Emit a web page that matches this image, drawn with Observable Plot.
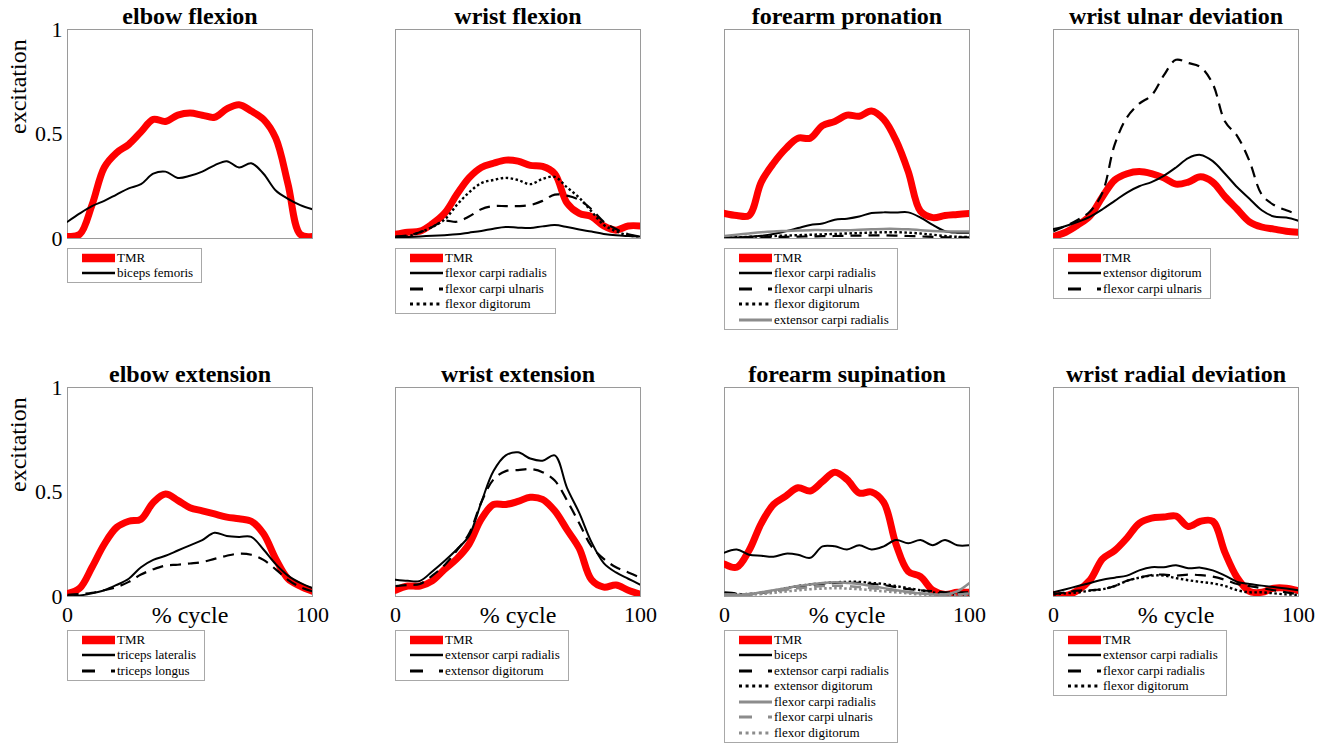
<!DOCTYPE html>
<html><head><meta charset="utf-8">
<script src="https://cdn.jsdelivr.net/npm/d3@7"></script>
<script src="https://cdn.jsdelivr.net/npm/@observablehq/plot@0.6"></script>
<style>
body{margin:0;background:#fff;}
#root{position:relative;width:1331px;height:745px;overflow:hidden;font-family:"Liberation Serif","Times New Roman",serif;background:#fff;}
.panel{position:absolute;}
.legend{position:absolute;border:1px solid #a8a8a8;background:#fff;padding:1px 8px 1px 0;font-size:13px;color:#000;}
.legend .row{display:flex;align-items:center;height:15.5px;white-space:nowrap;}
.legend svg{margin-left:14px;margin-right:2px;flex:none;display:block;}
</style></head><body><div id="root"></div>
<script>
// ---- data (x = % cycle, y = excitation) ----
const pct = [0,5,10,15,20,25,30,35,40,45,50,55,60,65,70,75,80,85,90,95,100];

// elbow flexion
const elbowFlexion_TMR = [0.01,0.02,0.16,0.34,0.41,0.45,0.51,0.57,0.56,0.59,0.60,0.59,0.58,0.62,0.64,0.61,0.57,0.48,0.26,0.02,0.01];
const elbowFlexion_bicepsFemoris = [0.08,0.12,0.155,0.18,0.21,0.24,0.26,0.31,0.32,0.29,0.30,0.32,0.35,0.37,0.34,0.36,0.31,0.23,0.19,0.16,0.14];

// wrist flexion
const wristFlexion_TMR = [0.02,0.03,0.035,0.07,0.12,0.21,0.29,0.34,0.36,0.375,0.37,0.35,0.345,0.31,0.17,0.12,0.105,0.06,0.04,0.06,0.06];
const wristFlexion_FCR = [0.005,0.007,0.01,0.013,0.016,0.02,0.028,0.036,0.047,0.055,0.052,0.05,0.058,0.064,0.055,0.043,0.033,0.022,0.015,0.012,0.01];
const wristFlexion_FCU = [0.01,0.015,0.03,0.055,0.085,0.08,0.105,0.14,0.155,0.155,0.155,0.16,0.18,0.21,0.205,0.185,0.14,0.08,0.045,0.02,0.01];
const wristFlexion_FD = [0.005,0.01,0.03,0.055,0.09,0.16,0.22,0.265,0.28,0.29,0.28,0.26,0.285,0.295,0.245,0.195,0.13,0.065,0.035,0.015,0.01];

// forearm pronation
const pronation_TMR = [0.12,0.11,0.11,0.27,0.36,0.43,0.48,0.48,0.54,0.56,0.59,0.585,0.61,0.57,0.47,0.32,0.13,0.10,0.11,0.115,0.12];
const pronation_FCR = [0.003,0.005,0.008,0.013,0.022,0.035,0.05,0.065,0.072,0.09,0.095,0.105,0.122,0.125,0.124,0.125,0.10,0.065,0.035,0.028,0.028];
const pronation_FCU = [0.004,0.004,0.005,0.006,0.007,0.008,0.009,0.01,0.011,0.012,0.013,0.014,0.015,0.015,0.014,0.012,0.01,0.008,0.006,0.005,0.005];
const pronation_FD = [0.005,0.006,0.008,0.01,0.012,0.014,0.016,0.018,0.02,0.022,0.024,0.026,0.028,0.03,0.03,0.028,0.024,0.018,0.012,0.008,0.008];
const pronation_ECR = [0.012,0.018,0.024,0.03,0.034,0.036,0.038,0.04,0.04,0.04,0.04,0.042,0.044,0.046,0.046,0.044,0.04,0.036,0.034,0.034,0.034];

// wrist ulnar deviation
const ulnarDev_TMR = [0.01,0.03,0.065,0.11,0.20,0.28,0.31,0.32,0.31,0.29,0.26,0.27,0.295,0.27,0.20,0.14,0.08,0.055,0.045,0.035,0.03];
const ulnarDev_ED = [0.045,0.06,0.08,0.105,0.14,0.18,0.22,0.25,0.27,0.30,0.34,0.385,0.40,0.37,0.31,0.245,0.19,0.135,0.105,0.10,0.085];
const ulnarDev_FCU = [0.035,0.06,0.09,0.13,0.22,0.45,0.58,0.645,0.685,0.78,0.855,0.84,0.82,0.74,0.56,0.49,0.37,0.21,0.16,0.135,0.115];

// elbow extension
const elbowExt_TMR = [0.015,0.04,0.14,0.25,0.33,0.36,0.37,0.45,0.49,0.46,0.425,0.41,0.395,0.38,0.372,0.36,0.30,0.18,0.085,0.05,0.025];
const elbowExt_tricepsLat = [0.0,0.005,0.015,0.03,0.055,0.085,0.14,0.175,0.195,0.22,0.245,0.27,0.305,0.29,0.285,0.285,0.225,0.155,0.10,0.065,0.04];
const elbowExt_tricepsLong = [0.008,0.012,0.018,0.03,0.045,0.07,0.105,0.13,0.148,0.152,0.158,0.165,0.18,0.195,0.205,0.20,0.175,0.13,0.08,0.045,0.025];

// wrist extension
const wristExt_TMR = [0.03,0.05,0.05,0.075,0.13,0.18,0.25,0.37,0.44,0.44,0.455,0.475,0.465,0.41,0.32,0.23,0.08,0.045,0.055,0.03,0.01];
const wristExt_ECR = [0.08,0.075,0.075,0.12,0.17,0.225,0.29,0.45,0.60,0.675,0.69,0.66,0.65,0.675,0.52,0.40,0.26,0.16,0.115,0.085,0.056];
const wristExt_ED = [0.05,0.055,0.06,0.10,0.15,0.22,0.30,0.45,0.56,0.60,0.605,0.61,0.595,0.555,0.46,0.35,0.24,0.18,0.14,0.115,0.09];

// forearm supination
const supination_TMR = [0.155,0.14,0.22,0.35,0.44,0.48,0.52,0.505,0.55,0.595,0.56,0.495,0.50,0.45,0.25,0.12,0.095,0.03,0.01,0.02,0.02];
const supination_biceps = [0.21,0.225,0.20,0.195,0.19,0.205,0.20,0.185,0.24,0.24,0.225,0.245,0.225,0.24,0.27,0.255,0.27,0.245,0.27,0.245,0.245];
const supination_ECR = [0.02,0.015,0.01,0.015,0.025,0.035,0.045,0.055,0.06,0.065,0.065,0.065,0.06,0.055,0.045,0.035,0.03,0.025,0.02,0.02,0.02];
const supination_ED = [0.015,0.012,0.012,0.018,0.028,0.04,0.05,0.058,0.063,0.068,0.07,0.07,0.065,0.06,0.05,0.04,0.03,0.02,0.012,0.01,0.01];
const supination_FCR = [0.01,0.008,0.01,0.02,0.03,0.04,0.05,0.058,0.065,0.068,0.065,0.06,0.05,0.04,0.03,0.022,0.015,0.01,0.01,0.025,0.065];
const supination_FCU = [0.01,0.01,0.012,0.018,0.025,0.032,0.04,0.045,0.05,0.052,0.05,0.045,0.04,0.035,0.028,0.02,0.015,0.012,0.01,0.01,0.015];
const supination_FD = [0.005,0.005,0.008,0.012,0.018,0.024,0.03,0.035,0.038,0.04,0.038,0.035,0.03,0.025,0.02,0.015,0.01,0.008,0.006,0.005,0.005];

// wrist radial deviation
const radialDev_TMR = [0.01,0.005,0.03,0.08,0.18,0.22,0.28,0.35,0.375,0.38,0.385,0.335,0.36,0.36,0.21,0.09,0.025,0.02,0.04,0.04,0.028];
const radialDev_ECR = [0.02,0.035,0.05,0.065,0.08,0.09,0.10,0.125,0.14,0.14,0.15,0.135,0.138,0.125,0.10,0.07,0.06,0.052,0.045,0.038,0.03];
const radialDev_FCR = [0.01,0.02,0.028,0.03,0.035,0.05,0.075,0.09,0.103,0.105,0.10,0.105,0.102,0.095,0.08,0.06,0.05,0.04,0.03,0.02,0.01];
const radialDev_FD = [0.01,0.015,0.02,0.028,0.035,0.05,0.075,0.09,0.10,0.10,0.088,0.078,0.07,0.063,0.05,0.03,0.02,0.02,0.015,0.01,0.008];

const yTicks = [0, 0.5, 1];
const xTicks = [0, 100];

// ---- styles ----
const STYLES = {
  tmr:        {stroke:"#ff0000", width:7,   dash:null,      legendWidth:8.5, legendDash:null},
  solid:      {stroke:"#000000", width:2,   dash:null,      legendWidth:2.5, legendDash:null},
  dashed:     {stroke:"#000000", width:2.2, dash:"11,7",    legendWidth:2.8, legendDash:"13,16"},
  dotted:     {stroke:"#000000", width:2.4, dash:"2.5,2.5", legendWidth:3,   legendDash:"3,3.6"},
  graySolid:  {stroke:"#8c8c8c", width:2.5, dash:null,      legendWidth:3,   legendDash:null},
  grayDashed: {stroke:"#8c8c8c", width:2.5, dash:"11,7",    legendWidth:3,   legendDash:"13,16"},
  grayDotted: {stroke:"#8c8c8c", width:2.6, dash:"2.5,2.5", legendWidth:3,   legendDash:"3,3.6"}
};

const panels = [
  {title:"elbow flexion", row:0, col:0, series:[
    ["TMR","tmr",elbowFlexion_TMR],["biceps femoris","solid",elbowFlexion_bicepsFemoris]]},
  {title:"wrist flexion", row:0, col:1, series:[
    ["TMR","tmr",wristFlexion_TMR],["flexor carpi radialis","solid",wristFlexion_FCR],
    ["flexor carpi ulnaris","dashed",wristFlexion_FCU],["flexor digitorum","dotted",wristFlexion_FD]]},
  {title:"forearm pronation", row:0, col:2, series:[
    ["TMR","tmr",pronation_TMR],["flexor carpi radialis","solid",pronation_FCR],
    ["flexor carpi ulnaris","dashed",pronation_FCU],["flexor digitorum","dotted",pronation_FD],
    ["extensor carpi radialis","graySolid",pronation_ECR]]},
  {title:"wrist ulnar deviation", row:0, col:3, series:[
    ["TMR","tmr",ulnarDev_TMR],["extensor digitorum","solid",ulnarDev_ED],
    ["flexor carpi ulnaris","dashed",ulnarDev_FCU]]},
  {title:"elbow extension", row:1, col:0, series:[
    ["TMR","tmr",elbowExt_TMR],["triceps lateralis","solid",elbowExt_tricepsLat],
    ["triceps longus","dashed",elbowExt_tricepsLong]]},
  {title:"wrist extension", row:1, col:1, series:[
    ["TMR","tmr",wristExt_TMR],["extensor carpi radialis","solid",wristExt_ECR],
    ["extensor digitorum","dashed",wristExt_ED]]},
  {title:"forearm supination", row:1, col:2, series:[
    ["TMR","tmr",supination_TMR],["biceps","solid",supination_biceps],
    ["extensor carpi radialis","dashed",supination_ECR],["extensor digitorum","dotted",supination_ED],
    ["flexor carpi radialis","graySolid",supination_FCR],["flexor carpi ulnaris","grayDashed",supination_FCU],
    ["flexor digitorum","grayDotted",supination_FD]]},
  {title:"wrist radial deviation", row:1, col:3, series:[
    ["TMR","tmr",radialDev_TMR],["extensor carpi radialis","solid",radialDev_ECR],
    ["flexor carpi radialis","dashed",radialDev_FCR],["flexor digitorum","dotted",radialDev_FD]]}
];

// ---- layout ----
const FW = 245, FH = 209;
const colX = [67, 395, 724, 1053];
const rowY = [28.5, 386.5];
const legendTop = [248, 630];
const ML = 67, MR = 30, MT = 45, MB = 45;
const FONT = "'Liberation Serif','Times New Roman',serif";

const root = document.getElementById("root");

for (const p of panels) {
  const marks = [Plot.frame({stroke:"#9a9a9a", strokeWidth:1})];
  for (const [name, styleKey, ys] of p.series) {
    const s = STYLES[styleKey];
    const data = pct.map((x, i) => ({x, y: ys[i]}));
    marks.push(Plot.line(data, {
      x:"x", y:"y", stroke:s.stroke, strokeWidth:s.width,
      strokeDasharray: s.dash || undefined,
      strokeLinecap: s.dash ? "butt" : "round",
      curve:"catmull-rom", clip:true
    }));
  }
  marks.push(Plot.text([p.title], {frameAnchor:"top", lineAnchor:"bottom", dy:-5.5,
    fontSize:24, fontWeight:"bold", fill:"#000"}));
  if (p.col === 0) {
    marks.push(Plot.text(["excitation"], {frameAnchor:"left", rotate:-90, dx:-49,
      lineAnchor:"middle", fontSize:24, fill:"#000"}));
  }
  if (p.row === 1) {
    marks.push(Plot.text(["% cycle"], {frameAnchor:"bottom", lineAnchor:"top", dy:9,
      fontSize:24, fill:"#000"}));
  }
  const svg = Plot.plot({
    width: FW + ML + MR, height: FH + MT + MB,
    marginLeft: ML, marginRight: MR, marginTop: MT, marginBottom: MB,
    style: {background:"transparent", overflow:"visible", fontFamily:FONT, fontSize:"22px", color:"#000"},
    x: {domain:[0,100], axis: p.row === 1 ? "bottom" : null, ticks:xTicks, tickSize:0,
        tickPadding:10, label:null, tickFormat:d => String(d)},
    y: {domain:[0,1], axis: p.col === 0 ? "left" : null, ticks:yTicks, tickSize:0,
        tickPadding:5, label:null, tickFormat:d => String(d)},
    marks
  });
  const wrap = document.createElement("div");
  wrap.className = "panel";
  wrap.style.left = (colX[p.col] - ML) + "px";
  wrap.style.top = (rowY[p.row] - MT) + "px";
  wrap.appendChild(svg);
  root.appendChild(wrap);

  // legend
  const leg = document.createElement("div");
  leg.className = "legend";
  leg.style.left = colX[p.col] + "px";
  leg.style.top = legendTop[p.row] + "px";
  for (const [name, styleKey] of p.series) {
    const s = STYLES[styleKey];
    const row = document.createElement("div");
    row.className = "row";
    const ns = "http://www.w3.org/2000/svg";
    const sv = document.createElementNS(ns, "svg");
    sv.setAttribute("width", 33); sv.setAttribute("height", 12);
    const ln = document.createElementNS(ns, "line");
    ln.setAttribute("x1", 0); ln.setAttribute("x2", 33);
    ln.setAttribute("y1", 6); ln.setAttribute("y2", 6);
    ln.setAttribute("stroke", s.stroke);
    ln.setAttribute("stroke-width", s.legendWidth);
    if (s.legendDash) ln.setAttribute("stroke-dasharray", s.legendDash);
    sv.appendChild(ln);
    const tx = document.createElement("span");
    tx.textContent = name;
    row.appendChild(sv); row.appendChild(tx);
    leg.appendChild(row);
  }
  root.appendChild(leg);
}
</script>
</body></html>
